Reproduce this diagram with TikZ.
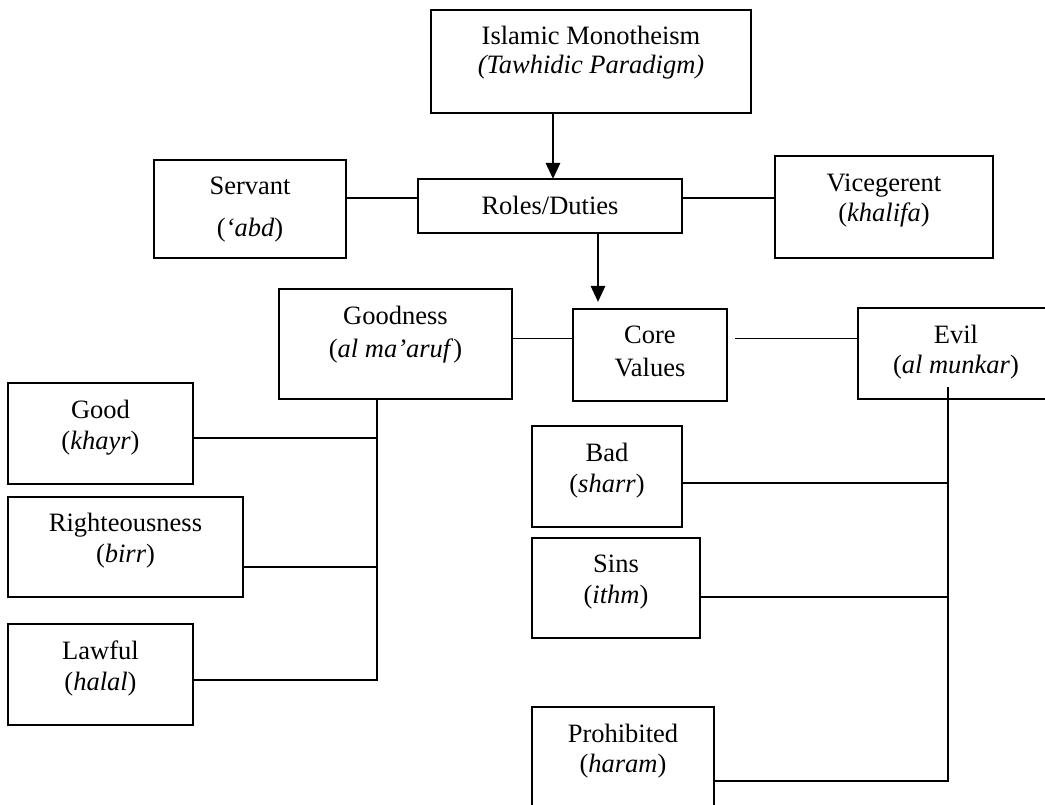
\documentclass[tikz,border=0pt]{standalone}
\usepackage{fontspec}
\setmainfont{Liberation Serif}
\usetikzlibrary{arrows.meta}
\tikzset{
  box/.style={draw, line width=2pt, inner sep=0pt, outer sep=0pt, fill=none},
  txt/.style={anchor=base, inner sep=0pt, font=\fontsize{26.5}{31}\selectfont},
  conn/.style={line width=1.9pt},
  arr/.style={line width=2.8pt, -{Triangle[width=14pt,length=16pt]}},
}
\begin{document}
\begin{tikzpicture}[x=1pt,y=-1pt]
\clip (0,0) rectangle (1045,805);
\useasboundingbox (0,0) rectangle (1045,805);
\fill[white] (0,0) rectangle (1045,805);

% boxes
\node[box, minimum width=320pt, minimum height=103pt] (top) at (591,61.5) {};
\node[box, minimum width=192pt, minimum height=98pt] (servant) at (250,209) {};
\node[box, minimum width=264pt, minimum height=54pt] (roles) at (550,206) {};
\node[box, minimum width=218pt, minimum height=102pt] (vice) at (884,207) {};
\node[box, minimum width=233pt, minimum height=110pt] (goodness) at (395.5,344) {};
\node[box, minimum width=154pt, minimum height=92pt] (core) at (650,355) {};
\node[box, minimum width=196pt, minimum height=91pt] (evil) at (956,353.5) {};
\node[box, minimum width=185pt, minimum height=101pt] (good) at (100.5,433.5) {};
\node[box, minimum width=235pt, minimum height=100pt] (right) at (125.5,547) {};
\node[box, minimum width=185pt, minimum height=101pt] (lawful) at (100.5,674.5) {};
\node[box, minimum width=150pt, minimum height=101pt] (bad) at (607,476.5) {};
\node[box, minimum width=168pt, minimum height=100pt] (sins) at (616,588) {};
\node[box, minimum width=182pt, minimum height=101pt] (prohib) at (623,757.5) {};

% texts
\node[txt] (topA) at (591,45) {Islamic Monotheism};
\node[txt] (topB) at (591,74) {\textit{(Tawhidic Paradigm)}};
\node[txt] (servantA) at (250,195) {Servant};
\node[txt] (servantB) at (250,237) {(\textit{‘abd})};
\node[txt] (rolesA) at (550,215) {Roles/Duties};
\node[txt] (viceA) at (884,192) {Vicegerent};
\node[txt] (viceB) at (884,222) {(\textit{khalifa})};
\node[txt] (goodnessA) at (395.5,325) {Goodness};
\node[txt] (goodnessB) at (395.5,357) {(\textit{al ma’aruf})};
\node[txt] (coreA) at (650,344) {Core};
\node[txt] (coreB) at (650,376) {Values};
\node[txt] (evilA) at (956,343) {Evil};
\node[txt] (evilB) at (956,373) {(\textit{al munkar})};
\node[txt] (goodA) at (100.5,418) {Good};
\node[txt] (goodB) at (100.5,449) {(\textit{khayr})};
\node[txt] (rightA) at (125.5,531) {Righteousness};
\node[txt] (rightB) at (125.5,562) {(\textit{birr})};
\node[txt] (lawfulA) at (100.5,659) {Lawful};
\node[txt] (lawfulB) at (100.5,690) {(\textit{halal})};
\node[txt] (badA) at (607,461) {Bad};
\node[txt] (badB) at (607,492) {(\textit{sharr})};
\node[txt] (sinsA) at (616,572) {Sins};
\node[txt] (sinsB) at (616,603) {(\textit{ithm})};
\node[txt] (prohibA) at (623,742) {Prohibited};
\node[txt] (prohibB) at (623,772) {(\textit{haram})};

% helper coordinates
\coordinate (rowRoles) at (0,198);
\coordinate (rowCore) at (0,338.5);
\coordinate (rowGood) at (0,438);
\coordinate (rowRight) at (0,567);
\coordinate (rowLawful) at (0,680);
\coordinate (rowBad) at (0,483);
\coordinate (rowSins) at (0,597);
\coordinate (rowProhib) at (0,781);
\coordinate (colTop) at (553,0);
\coordinate (colRoles) at (598,0);
\coordinate (colGood) at (377,0);
\coordinate (colEvil) at (948,0);
\coordinate (evilStart) at (948,387);
\coordinate (coreTip) at (598,302);

% arrows
\draw[arr] (top.south -| colTop) -- (roles.north -| colTop);
\draw[arr] (roles.south -| colRoles) -- (coreTip);

% horizontal links
\draw[conn] (servant.east |- rowRoles) -- (roles.west |- rowRoles);
\draw[conn] (roles.east |- rowRoles) -- (vice.west |- rowRoles);
\draw[conn] (goodness.east |- rowCore) -- (core.west |- rowCore);
\draw[conn, shorten <=8pt] (core.east |- rowCore) -- (evil.west |- rowCore);

% goodness tree
\draw[conn] (goodness.south -| colGood) -- (colGood |- rowLawful) -- (lawful.east |- rowLawful);
\draw[conn] (good.east |- rowGood) -- (colGood |- rowGood);
\draw[conn] (right.east |- rowRight) -- (colGood |- rowRight);

% evil tree
\draw[conn] (evilStart) -- (colEvil |- rowProhib) -- (prohib.east |- rowProhib);
\draw[conn] (bad.east |- rowBad) -- (colEvil |- rowBad);
\draw[conn] (sins.east |- rowSins) -- (colEvil |- rowSins);
\end{tikzpicture}
\end{document}
